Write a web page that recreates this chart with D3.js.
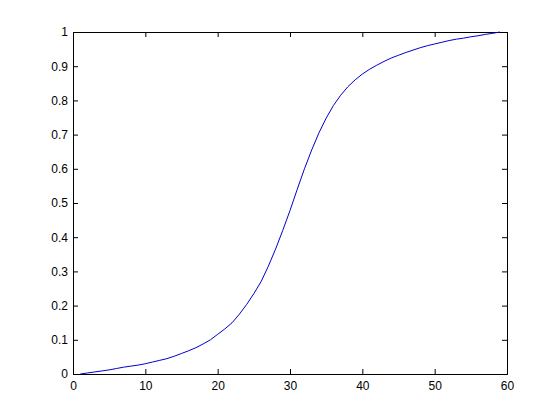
<!DOCTYPE html>
<html>
<head>
<meta charset="utf-8">
<script src="https://cdn.jsdelivr.net/npm/d3@7"></script>
<style>
  body { margin: 0; background: #fff; }
  svg text { font-family: "Liberation Sans", Arial, sans-serif; font-size: 12px; fill: #000; }
</style>
</head>
<body>
<div class="container"></div>
<script>
// curve values
var xs = [1,2,3,4,5,6,7,8,9,10,11,12,13,14,15,16,17,18,19,20,
          21,22,23,24,25,26,27,28,29,30,31,32,33,34,35,36,37,38,39,40,
          41,42,43,44,45,46,47,48,49,50,51,52,53,54,55,56,57,58,59];
var ys = [0.000,0.003,0.006,0.009,0.012,0.016,0.020,0.023,0.026,0.030,
          0.035,0.040,0.045,0.052,0.060,0.068,0.077,0.088,0.100,0.116,
          0.132,0.150,0.175,0.203,0.235,0.270,0.315,0.365,0.420,0.478,
          0.540,0.600,0.655,0.705,0.748,0.785,0.815,0.840,0.860,0.877,
          0.891,0.903,0.914,0.924,0.932,0.940,0.947,0.954,0.960,0.965,
          0.970,0.975,0.979,0.982,0.986,0.989,0.993,0.996,1.000];
var xticks = [0,10,20,30,40,50,60];
var yticks = [0,0.1,0.2,0.3,0.4,0.5,0.6,0.7,0.8,0.9,1];

var width = 560, height = 420;
var mLeft = 73, mRight = 507, mTop = 32, mBottom = 374;

var svg = d3.select(".container")
    .append("svg")
    .attr("width", width)
    .attr("height", height);

var x = d3.scaleLinear().domain([0, 60]).range([mLeft, mRight]);
var y = d3.scaleLinear().domain([0, 1]).range([mBottom, mTop]);

var tick = 5;

// bottom and top axes, ticks pointing inward
svg.append("g")
    .attr("transform", "translate(0," + mBottom + ")")
    .call(d3.axisBottom(x).tickValues(xticks).tickSize(-tick).tickPadding(7).tickFormat(d3.format("d")));
svg.append("g")
    .attr("transform", "translate(0," + mTop + ")")
    .call(d3.axisTop(x).tickValues(xticks).tickSize(-tick).tickFormat(""));
// left and right
svg.append("g")
    .attr("transform", "translate(" + mLeft + ",0)")
    .call(d3.axisLeft(y).tickValues(yticks).tickSize(-tick).tickPadding(5).tickFormat(d3.format("")));
svg.append("g")
    .attr("transform", "translate(" + mRight + ",0)")
    .call(d3.axisRight(y).tickValues(yticks).tickSize(-tick).tickFormat(""));

svg.selectAll(".domain").attr("stroke", "#000").attr("stroke-width", 1);
svg.selectAll(".tick line").attr("stroke", "#000");
svg.selectAll(".tick text").style("font-family", "'Liberation Sans', Arial, sans-serif").style("font-size", "12px");

var line = d3.line()
    .x(function(d, i) { return x(xs[i]); })
    .y(function(d) { return y(d); });

svg.append("path")
    .datum(ys)
    .attr("d", line)
    .attr("fill", "none")
    .attr("stroke", "#0000d0")
    .attr("stroke-width", 1);
</script>
</body>
</html>
